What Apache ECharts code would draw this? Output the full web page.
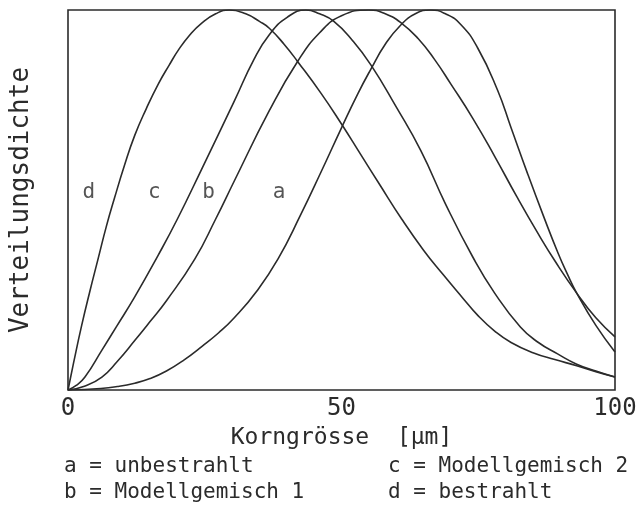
<!DOCTYPE html>
<html>
<head>
<meta charset="utf-8">
<script src="https://cdn.jsdelivr.net/npm/echarts@6/dist/echarts.min.js"></script>
<style>
    html, body { margin: 0; padding: 0; background: #fff; }
    #chart { width: 641px; height: 517px; }
</style>
</head>
<body>
<div id="chart"></div>
<script>
// Korngrösse [µm] und relative Verteilungsdichte (Maximum = 1)
let a_x = [0, 6, 9, 12.2, 15, 18, 21.3, 24.5, 27.5, 30.4, 34.5, 38.4, 42.5, 46.3, 50, 53, 55.4, 58, 60.8, 63.5, 66.3, 69, 71.8, 74.9, 78.5, 81, 84, 87, 89.6, 91.3, 93, 96.5, 100];
let a_y = [0, 0.004, 0.009, 0.018, 0.03, 0.05, 0.08, 0.115, 0.15, 0.19, 0.26, 0.345, 0.46, 0.575, 0.69, 0.78, 0.845, 0.91, 0.96, 0.99, 1.0, 0.99, 0.962, 0.9, 0.79, 0.69, 0.57, 0.455, 0.36, 0.305, 0.255, 0.17, 0.10];

let b_x = [0, 3, 6.2, 9, 12.2, 15, 18, 23.2, 27, 30.4, 36.8, 42, 46, 50, 55, 58, 61, 64, 67, 70, 74, 78, 82, 86, 89, 93, 96.5, 100];
let b_y = [0, 0.01, 0.034, 0.075, 0.13, 0.18, 0.235, 0.345, 0.45, 0.55, 0.735, 0.865, 0.94, 0.985, 1.0, 0.99, 0.965, 0.925, 0.87, 0.805, 0.715, 0.615, 0.51, 0.41, 0.34, 0.255, 0.19, 0.14];

let c_x = [0, 1.5, 3.1, 6.2, 9, 12.2, 16.5, 20, 24.4, 30.4, 34, 36.8, 40, 43.5, 46, 48.6, 52, 55.4, 60, 64.5, 69, 74, 78, 82.7, 86, 89.5, 93, 96.5, 100];
let c_y = [0, 0.012, 0.034, 0.105, 0.17, 0.245, 0.355, 0.45, 0.58, 0.76, 0.87, 0.935, 0.98, 1.0, 0.99, 0.97, 0.92, 0.855, 0.745, 0.63, 0.49, 0.35, 0.255, 0.166, 0.125, 0.095, 0.068, 0.05, 0.034];

let d_x = [0, 1, 2.5, 4, 5.5, 7, 8.5, 10.3, 12.2, 14.3, 16.5, 18.5, 20.2, 22.3, 24.4, 27, 29.5, 32.5, 35, 36.8, 39.5, 42, 46.3, 50, 53.5, 57, 61, 65, 68.5, 72, 75, 78, 81, 85, 89, 93, 96.5, 100];
let d_y = [0, 0.07, 0.17, 0.26, 0.345, 0.43, 0.505, 0.59, 0.67, 0.74, 0.805, 0.855, 0.895, 0.935, 0.965, 0.99, 1.0, 0.99, 0.97, 0.952, 0.91, 0.864, 0.78, 0.70, 0.62, 0.54, 0.45, 0.368, 0.305, 0.245, 0.195, 0.155, 0.125, 0.098, 0.08, 0.064, 0.048, 0.034];

// Kurvenbeschriftung
let kurven_namen = ['d', 'c', 'b', 'a'];
let kurven_label_x = [3.8, 15.8, 25.7, 38.6];
let kurven_label_y = [0.52, 0.52, 0.52, 0.52];

let x_ticks = [0, 50, 100];
let legende_links = ['a = unbestrahlt', 'b = Modellgemisch 1'];
let legende_rechts = ['c = Modellgemisch 2', 'd = bestrahlt'];

const FONT = 'DejaVu Sans Mono';
const INK = '#2b2b2b';

function paare(xs, ys) {
    return xs.map(function (x, i) { return [x, ys[i]]; });
}

function kurve(name, xs, ys) {
    return {
        name: name,
        type: 'line',
        data: paare(xs, ys),
        smooth: 0.5,
        symbol: 'none',
        silent: true,
        lineStyle: { color: INK, width: 1.6 }
    };
}

function legendenText(text, left, top) {
    return {
        type: 'text', left: left, top: top,
        style: { text: text, font: '21px "' + FONT + '"', fill: INK }
    };
}

let Chart_verteilung = echarts.init(document.getElementById('chart'));

let option_verteilung = {
    animation: false,
    grid: {
        left: 66,
        top: 10,
        right: 26,
        bottom: 127,
        show: true,
        borderColor: INK,
        borderWidth: 1.6
    },
    xAxis: {
        type: 'value',
        min: 0,
        max: 100,
        interval: 50,
        name: 'Korngrösse  [µm]',
        nameLocation: 'middle',
        nameGap: 37,
        nameTextStyle: { fontFamily: FONT, fontSize: 23, color: INK },
        axisLine: { show: false },
        axisTick: { show: false },
        splitLine: { show: false },
        axisLabel: {
            margin: 7,
            fontFamily: FONT,
            fontSize: 24,
            color: INK,
            formatter: function (v) { return x_ticks.indexOf(v) >= 0 ? String(v) : ''; }
        }
    },
    yAxis: {
        type: 'value',
        min: 0,
        max: 1,
        name: 'Verteilungsdichte',
        nameLocation: 'middle',
        nameRotate: 90,
        nameGap: 34,
        nameTextStyle: { fontFamily: FONT, fontSize: 26, color: INK },
        axisLine: { show: false },
        axisTick: { show: false },
        splitLine: { show: false },
        axisLabel: { show: false }
    },
    series: [
        kurve('a', a_x, a_y),
        kurve('b', b_x, b_y),
        kurve('c', c_x, c_y),
        kurve('d', d_x, d_y),
        {
            type: 'scatter',
            symbolSize: 0,
            silent: true,
            data: kurven_namen.map(function (n, i) {
                return { name: n, value: [kurven_label_x[i], kurven_label_y[i]] };
            }),
            label: {
                show: true,
                position: 'inside',
                formatter: '{b}',
                fontFamily: FONT,
                fontSize: 21,
                color: INK
            }
        }
    ],
    graphic: [
        legendenText(legende_links[0], 64, 456),
        legendenText(legende_links[1], 64, 482),
        legendenText(legende_rechts[0], 388, 456),
        legendenText(legende_rechts[1], 388, 482)
    ]
};

Chart_verteilung.setOption(option_verteilung);
</script>
</body>
</html>
